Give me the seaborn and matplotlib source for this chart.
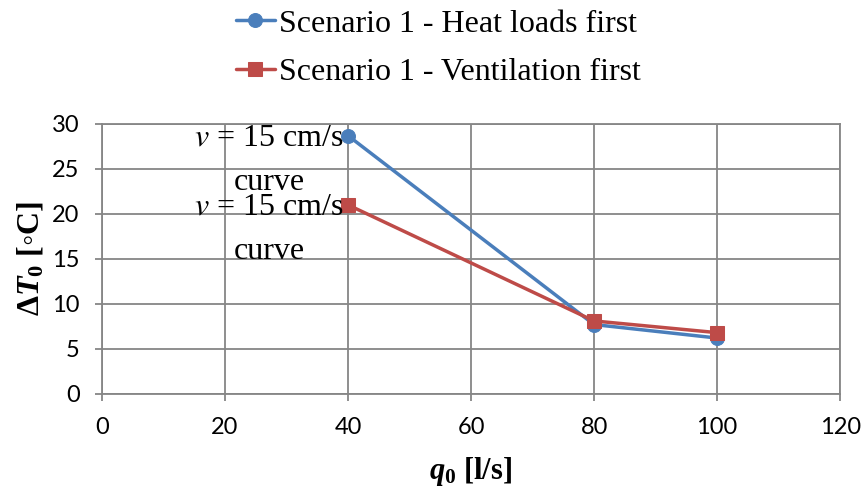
import matplotlib
matplotlib.use("Agg")
import matplotlib.pyplot as plt
import seaborn as sns
import numpy as np

q0 = [40, 80, 100]
heat_first = [28.7, 7.7, 6.2]
vent_first = [21.0, 8.1, 6.8]
labels = ["Scenario 1 - Heat loads first", "Scenario 1 - Ventilation first"]
note = "$v$ = 15 cm/s\ncurve"

sns.set_style("white")
plt.rcParams["text.color"] = "black"
plt.rcParams["axes.labelcolor"] = "black"
plt.rcParams["mathtext.fontset"] = "custom"
plt.rcParams["mathtext.rm"] = "Liberation Serif:bold"
plt.rcParams["mathtext.it"] = "Liberation Serif:bold:italic"
plt.rcParams["mathtext.bf"] = "Liberation Serif:bold"

blue, red, grey = "#4A7EBB", "#BE4B48", "#868686"

fig = plt.figure(figsize=(8.67, 4.88), dpi=100)
ax = fig.add_axes([0.1176, 0.193, 0.969 - 0.1176, 0.746 - 0.193])

sns.lineplot(x=q0, y=heat_first, color=blue, marker="o", markersize=10, markeredgecolor=blue,
             linewidth=2.5, label=labels[0], ax=ax)
sns.lineplot(x=q0, y=vent_first, color=red, marker="s", markersize=10, markeredgecolor=red,
             linewidth=2.5, label=labels[1], ax=ax)

# data labels next to the first point of each series
for y in (heat_first[0], vent_first[0]):
    ax.annotate(note, (q0[0], y), xytext=(-3, 9), textcoords="offset points",
                ha="right", va="top", multialignment="center", fontsize=23,
                family="Liberation Serif", math_fontfamily="stix", linespacing=1.7)

ax.set_xlim(0, 120)
ax.set_ylim(0, 30)
ax.set_xticks(np.arange(0, 121, 20))
ax.set_yticks(np.arange(0, 31, 5))
ax.grid(True, color=grey, linewidth=1.3)
for s in ax.spines.values():
    s.set_color(grey)
    s.set_linewidth(1.3)
ax.tick_params(axis="both", colors="black", labelsize=17, length=5, color=grey, width=1.3,
               direction="out", bottom=True, left=True)
ax.tick_params(axis="x", pad=12)
ax.tick_params(axis="y", pad=11)
for t in ax.get_xticklabels() + ax.get_yticklabels():
    t.set_family("Lato")

ax.set_xlabel("$q_0$ [l/s]", fontsize=22, family="Liberation Serif", weight="bold", labelpad=12)
ax.set_ylabel("Δ$T_0$ [◦C]", fontsize=23, family=["Liberation Serif", "DejaVu Sans"],
              weight="bold", labelpad=5)

ax.get_legend().remove()
h, l = ax.get_legend_handles_labels()
fig.legend(h, l, loc="upper center", bbox_to_anchor=(0.506, 1.04), frameon=False,
           prop={"family": "Liberation Serif", "size": 23}, handlelength=1.2,
           handletextpad=0.15, labelspacing=0.6)

fig.savefig("out.png", dpi=100)
